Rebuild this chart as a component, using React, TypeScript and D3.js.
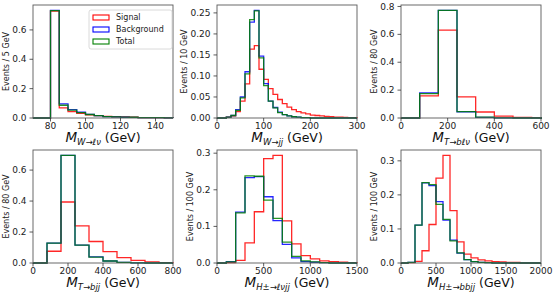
import React from "react"
import * as d3 from "d3"

// histogram contents (normalised)
const wlvStart = 70
const wlvWidth = 5
const wlvSignal = [0, 0, 0.728, 0.069, 0.043, 0.032, 0.021, 0.016, 0.011, 0.009, 0.007, 0.006, 0.003, 0.002, 0.002, 0.001]
const wlvBackground = [0, 0, 0.733, 0.096, 0.057, 0.039, 0.025, 0.016, 0.01, 0.007, 0.005, 0.004, 0.003, 0.002, 0.002, 0.001]
const wlvTotal = [0, 0, 0.732, 0.087, 0.054, 0.037, 0.024, 0.016, 0.01, 0.008, 0.006, 0.005, 0.003, 0.002, 0.002, 0.001]

const wjjStart = 0
const wjjWidth = 10
const wjjSignal = [0, 0, 0.002, 0.005, 0.015, 0.04, 0.081, 0.164, 0.172, 0.116, 0.092, 0.07, 0.056, 0.044, 0.034, 0.026, 0.02, 0.015, 0.012, 0.01, 0.007, 0.006, 0.005, 0.004, 0.003, 0.002, 0.002, 0.0015, 0.001, 0.001]
const wjjBackground = [0, 0, 0.002, 0.006, 0.02, 0.05, 0.11, 0.228, 0.256, 0.147, 0.082, 0.04, 0.025, 0.014, 0.008, 0.005, 0.003, 0.002, 0.001, 0.001, 0, 0, 0, 0, 0, 0, 0, 0, 0, 0]
const wjjTotal = [0, 0, 0.002, 0.006, 0.018, 0.048, 0.105, 0.234, 0.255, 0.143, 0.077, 0.04, 0.024, 0.013, 0.008, 0.005, 0.003, 0.002, 0.001, 0.001, 0, 0, 0, 0, 0, 0, 0, 0, 0, 0]

const tblvStart = 0
const tblvWidth = 80
const tblvSignal = [0, 0.158, 0.63, 0.151, 0.043, 0.014, 0.005, 0.002]
const tblvBackground = [0, 0.18, 0.772, 0.045, 0.005, 0.001, 0, 0]
const tblvTotal = [0, 0.175, 0.772, 0.046, 0.006, 0.001, 0, 0]

const tbjjStart = 0
const tbjjWidth = 80
const tbjjSignal = [0, 0.076, 0.394, 0.24, 0.139, 0.074, 0.035, 0.017, 0.007, 0.003]
const tbjjBackground = [0, 0.128, 0.695, 0.115, 0.039, 0.013, 0.004, 0.001, 0, 0]
const tbjjTotal = [0, 0.128, 0.695, 0.116, 0.038, 0.013, 0.004, 0.001, 0, 0]

const hlvjjStart = 0
const hlvjjWidth = 100
const hlvjjSignal = [0, 0.001, 0.007, 0.055, 0.14, 0.285, 0.294, 0.115, 0.052, 0.02, 0.011, 0.006, 0.004, 0.002, 0.001]
const hlvjjBackground = [0, 0.004, 0.139, 0.233, 0.236, 0.181, 0.116, 0.051, 0.014, 0.004, 0.002, 0.001, 0, 0, 0]
const hlvjjTotal = [0, 0.003, 0.137, 0.238, 0.237, 0.172, 0.122, 0.057, 0.018, 0.006, 0.003, 0.001, 0, 0, 0]

const hbbjjStart = 0
const hbbjjWidth = 100
const hbbjjSignal = [0, 0.001, 0.005, 0.036, 0.113, 0.249, 0.316, 0.154, 0.062, 0.026, 0.015, 0.009, 0.006, 0.004, 0.003, 0.002, 0.002, 0, 0, 0]
const hbbjjBackground = [0, 0.002, 0.111, 0.235, 0.227, 0.18, 0.126, 0.067, 0.029, 0.01, 0.004, 0.002, 0.001, 0, 0, 0, 0, 0, 0, 0]
const hbbjjTotal = [0, 0.002, 0.111, 0.236, 0.23, 0.172, 0.128, 0.065, 0.03, 0.01, 0.004, 0.002, 0.001, 0, 0, 0, 0, 0, 0, 0]

// axis ticks
const wlvXTicks = [80, 100, 120, 140]
const wlvYTicks = ["0.0", "0.2", "0.4", "0.6"]
const wjjXTicks = [0, 100, 200, 300]
const wjjYTicks = ["0.00", "0.05", "0.10", "0.15", "0.20", "0.25"]
const tblvXTicks = [0, 200, 400, 600]
const tblvYTicks = ["0.0", "0.2", "0.4", "0.6", "0.8"]
const tbjjXTicks = [0, 200, 400, 600, 800]
const tbjjYTicks = ["0.0", "0.2", "0.4", "0.6"]
const hlvjjXTicks = [0, 500, 1000, 1500]
const hlvjjYTicks = ["0.0", "0.1", "0.2", "0.3"]
const hbbjjXTicks = [0, 500, 1000, 1500, 2000]
const hbbjjYTicks = ["0.0", "0.1", "0.2", "0.3"]

const seriesNames = ["Signal", "Background", "Total"]
const seriesColors = ["#ff0000", "#0000ff", "#008000"]

interface PanelDef {
  start: number
  width: number
  series: number[][]
  xDomain: [number, number]
  xTicks: number[]
  yTicks: string[]
  yLabel: string
  sub: string
  left: number
  top: number
  legend?: boolean
}

const panels: PanelDef[] = [
  { start: wlvStart, width: wlvWidth, series: [wlvSignal, wlvBackground, wlvTotal], xDomain: [70, 150], xTicks: wlvXTicks, yTicks: wlvYTicks, yLabel: "Events / 5 GeV", sub: "W→ℓν", left: 33, top: 5, legend: true },
  { start: wjjStart, width: wjjWidth, series: [wjjSignal, wjjBackground, wjjTotal], xDomain: [0, 300], xTicks: wjjXTicks, yTicks: wjjYTicks, yLabel: "Events / 10 GeV", sub: "W→jj", left: 217, top: 5 },
  { start: tblvStart, width: tblvWidth, series: [tblvSignal, tblvBackground, tblvTotal], xDomain: [0, 600], xTicks: tblvXTicks, yTicks: tblvYTicks, yLabel: "Events / 80 GeV", sub: "T→bℓν", left: 401, top: 5 },
  { start: tbjjStart, width: tbjjWidth, series: [tbjjSignal, tbjjBackground, tbjjTotal], xDomain: [0, 800], xTicks: tbjjXTicks, yTicks: tbjjYTicks, yLabel: "Events / 80 GeV", sub: "T→bjj", left: 33, top: 150 },
  { start: hlvjjStart, width: hlvjjWidth, series: [hlvjjSignal, hlvjjBackground, hlvjjTotal], xDomain: [0, 1500], xTicks: hlvjjXTicks, yTicks: hlvjjYTicks, yLabel: "Events / 100 GeV", sub: "H±→ℓνjj", left: 217, top: 150 },
  { start: hbbjjStart, width: hbbjjWidth, series: [hbbjjSignal, hbbjjBackground, hbbjjTotal], xDomain: [0, 2000], xTicks: hbbjjXTicks, yTicks: hbbjjYTicks, yLabel: "Events / 100 GeV", sub: "H±→bbjj", left: 401, top: 150 },
]

const W = 140
const H = 113
const font = "DejaVu Sans, sans-serif"

const Panel: React.FC<{ p: PanelDef; idx: number }> = ({ p, idx }) => {
  const ymax = (d3.max(p.series.flat()) as number) * 1.05
  const x = d3.scaleLinear().domain(p.xDomain).range([0, W])
  const y = d3.scaleLinear().domain([0, ymax]).range([H, 0])
  const line = d3
    .line<[number, number]>()
    .x((d) => x(d[0]))
    .y((d) => y(d[1]))
    .curve(d3.curveStepAfter)

  // outline of a step histogram, closed down to zero at both ends
  const stepPoints = (vals: number[]): [number, number][] => {
    const pts: [number, number][] = [[p.start, 0]]
    vals.forEach((v, i) => pts.push([p.start + i * p.width, v]))
    const end = p.start + vals.length * p.width
    pts.push([end, vals[vals.length - 1]])
    pts.push([end, 0])
    return pts
  }

  const maxLabelLen = d3.max(p.yTicks, (t) => t.length) as number
  const labelW = maxLabelLen === 4 ? 20 : 14
  const clipId = `clip${idx}`

  return (
    <g transform={`translate(${p.left},${p.top})`}>
      <defs>
        <clipPath id={clipId}>
          <rect x={-1} y={-1} width={W + 2} height={H + 2} />
        </clipPath>
      </defs>
      <g clipPath={`url(#${clipId})`}>
        {p.series.map((vals, i) => (
          <path
            key={i}
            d={line(stepPoints(vals)) || ""}
            fill="none"
            stroke={seriesColors[i]}
            strokeWidth={1.3}
            strokeOpacity={0.85}
          />
        ))}
      </g>
      <rect x={0} y={0} width={W} height={H} fill="none" stroke="#5a5a5a" strokeWidth={0.9} />
      {p.xTicks.map((t) => (
        <g key={t} transform={`translate(${x(t)},${H})`}>
          <line y2={3.5} stroke="#333" strokeWidth={0.8} />
          <text y={10.5} textAnchor="middle" fontSize={9} fontFamily={font} fill="#222">
            {t}
          </text>
        </g>
      ))}
      {p.yTicks.map((t) => (
        <g key={t} transform={`translate(0,${y(+t)})`}>
          <line x2={-3.5} stroke="#333" strokeWidth={0.8} />
          <text x={-6.5} dy="0.34em" textAnchor="end" fontSize={9} fontFamily={font} fill="#222">
            {t}
          </text>
        </g>
      ))}
      <text
        transform={`translate(${-8 - labelW - 2},${H / 2}) rotate(-90)`}
        textAnchor="middle"
        fontSize={8}
        fontFamily={font}
        fill="#222"
      >
        {p.yLabel}
      </text>
      <text x={W / 2} y={H + 24} textAnchor="middle" fontFamily={font} fill="#111">
        <tspan fontSize={13.5} fontStyle="italic">M</tspan>
        <tspan fontSize={8.5} fontStyle="italic" dy={2.5}>{p.sub}</tspan>
        <tspan fontSize={12.5} dy={-2.5}>{" (GeV)"}</tspan>
      </text>
      {p.legend && (
        <g transform="translate(56,5)">
          <rect x={0} y={0} width={83} height={39} rx={2} fill="white" fillOpacity={0.85} stroke="#d0d0d0" strokeWidth={0.8} />
          {seriesNames.map((n, i) => (
            <g key={n} transform={`translate(0,${7.5 + i * 12})`}>
              <rect x={4} y={-2.5} width={16} height={5} fill="none" stroke={seriesColors[i]} strokeWidth={1.1} />
              <text x={27} dy="0.34em" fontSize={8} fontFamily={font} fill="#222">
                {n}
              </text>
            </g>
          ))}
        </g>
      )}
    </g>
  )
}

export default function App() {
  return (
    <div style={{ position: "absolute", left: 0, top: 0 }}>
      <svg width={557} height={296} style={{ display: "block", background: "white" }}>
        {panels.map((p, i) => (
          <Panel key={i} p={p} idx={i} />
        ))}
      </svg>
    </div>
  )
}
